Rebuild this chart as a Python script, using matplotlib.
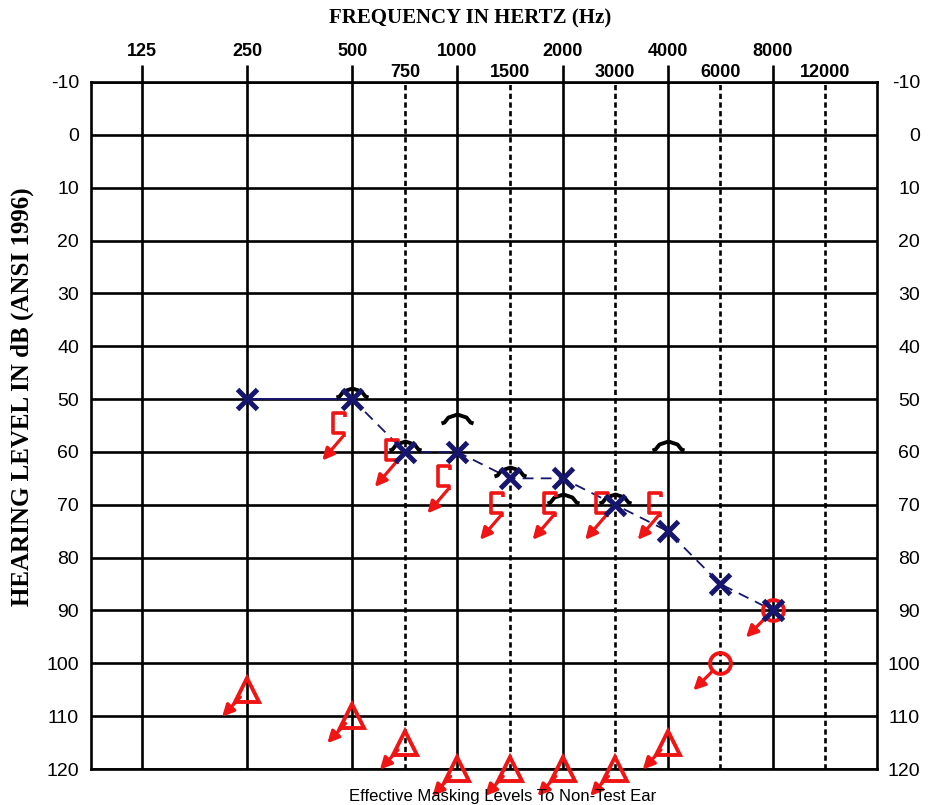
import numpy as np
import matplotlib.pyplot as plt
from matplotlib.path import Path

# audiogram grid
octave_freqs = [125, 250, 500, 1000, 2000, 4000, 8000]
mid_freqs = [750, 1500, 3000, 6000, 12000]
levels = list(range(-10, 121, 10))

# left air conduction (X)
ac_freqs = [250, 500, 750, 1000, 1500, 2000, 3000, 4000, 6000, 8000]
ac_left = [50, 50, 60, 60, 65, 65, 70, 75, 85, 90]

# bone conduction: unmasked (^) and masked right, no response ([)
bc_freqs = [500, 750, 1000, 1500, 2000, 3000, 4000]
bc_unmasked = [50, 60, 55, 65, 70, 70, 60]
bc_masked_nr = [55, 60, 65, 70, 70, 70, 70]

# masked right air conduction, no response (triangle)
acm_freqs = [250, 500, 750, 1000, 1500, 2000, 3000, 4000]
acm_right_nr = [105, 110, 115, 120, 120, 120, 120, 115]

# unmasked right air conduction, no response (O)
acr_freqs = [6000, 8000]
acr_right_nr = [100, 90]

NAVY = '#16166e'
RED = '#f01414'
DPI = 100
LW = 1.9


def freq_to_pos(f):
    # one unit per octave from 125 Hz, linear in Hz inside each octave,
    # so 750/1500/3000... sit half way between the octave lines
    f = np.maximum(np.asarray(f, float), 1e-6)
    octv = np.floor(np.log2(f / 125) + 1e-9)
    return octv + f / (125 * 2 ** octv) - 1


def pos_to_freq(p):
    p = np.asarray(p, float)
    octv = np.floor(p)
    return 125 * 2 ** octv * (1 + p - octv)


def px_marker(pts):
    # custom marker drawn in pixel offsets around the data point
    verts = np.array(pts, float)
    size = 2 * np.abs(verts).max() * 72 / DPI
    return Path(verts), size


def nr_arrows(ax, freqs, vals, tip_px, shrink_px):
    # "no response" arrows pointing down-left
    for f, v in zip(freqs, vals):
        ax.annotate('', xy=(f, v), xytext=(tip_px[0] * 0.72, -tip_px[1] * 0.72),
                    textcoords='offset points', annotation_clip=False,
                    arrowprops=dict(arrowstyle='<|-,head_length=0.7,head_width=0.35',
                                    color=RED, lw=2.3, mutation_scale=10,
                                    shrinkA=0, shrinkB=shrink_px * 0.72))


fig = plt.figure(figsize=(9.38, 8.05), dpi=DPI)
ax = fig.add_axes([91 / 938, 1 - 769 / 805, 786 / 938, 687 / 805])

ax.set_xscale('function', functions=(freq_to_pos, pos_to_freq))
ax.set_xlim(pos_to_freq(-0.485), pos_to_freq(6.99))
ax.set_ylim(120, -10)

ax.xaxis.tick_top()
ax.set_xticks(octave_freqs, labels=[str(f) for f in octave_freqs],
              fontweight='bold', fontsize=13, family='Liberation Sans')
ax.set_xticks(mid_freqs, labels=[str(f) for f in mid_freqs], minor=True,
              fontweight='bold', fontsize=13, family='Liberation Sans')
ax.tick_params(axis='x', which='major', length=12.2, width=LW, pad=3.5, top=True, bottom=False)
ax.tick_params(axis='x', which='minor', length=0, pad=0.8, top=True, bottom=False)

ax.set_yticks(levels, labels=[str(v) for v in levels], fontsize=14, family='Liberation Sans')
ax.tick_params(axis='y', length=0, pad=8.6)

sec = ax.secondary_yaxis('right')
sec.set_yticks(levels, labels=[str(v) for v in levels], fontsize=14, family='Liberation Sans',
               ha='right')
sec.tick_params(length=0, pad=31)
sec.spines['right'].set_visible(False)

ax.grid(which='major', axis='both', color='black', lw=LW)
ax.grid(which='minor', axis='x', color='black', lw=LW, ls=(0, (2.0, 1.3)))
ax.set_axisbelow(True)
for sp in ax.spines.values():
    sp.set_linewidth(LW)

# left air conduction line: solid first segment, dashed after
ax.plot(ac_freqs[:2], ac_left[:2], color=NAVY, lw=1.3, zorder=3)
ax.plot(ac_freqs[1:], ac_left[1:], color=NAVY, lw=1.3, ls=(0, (6, 4)), zorder=3)

hat, hat_ms = px_marker([(-16, 2), (-13, 3), (-9, 8), (0, 11), (9, 8), (13, 3), (16, 2)])
ax.plot(bc_freqs, bc_unmasked, ls='none', marker=hat, ms=hat_ms, mfc='none',
        mec='black', mew=2.8, zorder=4, clip_on=False)

bracket, br_ms = px_marker([(-7, 8), (-7, 12), (-19, 12), (-19, -8), (-8, -8), (-8, -12)])
ax.plot(bc_freqs, bc_masked_nr, ls='none', marker=bracket, ms=br_ms, mfc='none',
        mec=RED, mew=2.6, zorder=4, clip_on=False)
nr_arrows(ax, bc_freqs, bc_masked_nr, (-30, 35), 15)

ax.plot(acm_freqs, acm_right_nr, ls='none', marker='^', ms=17, mfc='none',
        mec=RED, mew=2.8, zorder=4, clip_on=False)
nr_arrows(ax, acm_freqs, acm_right_nr, (-25, 27), 10)

ax.plot(acr_freqs, acr_right_nr, ls='none', marker='o', ms=15, mfc='none',
        mec=RED, mew=2.8, zorder=4, clip_on=False)
nr_arrows(ax, acr_freqs, acr_right_nr, (-27, 27), 10)

ax.plot(ac_freqs, ac_left, ls='none', marker='x', ms=14, mec=NAVY, mew=3.6,
        zorder=5, clip_on=False)

fig.text(470 / 938, 1 - 18 / 805, 'FREQUENCY IN HERTZ (Hz)', ha='center', va='center',
         family='Liberation Serif', fontweight='bold', fontsize=15)
fig.text(22 / 938, 1 - 397 / 805, 'HEARING LEVEL IN dB (ANSI 1996)', ha='center',
         va='center', rotation=90, family='Liberation Serif', fontweight='bold', fontsize=18)
fig.text(503 / 938, 1 - 804 / 805, 'Effective Masking Levels To Non-Test Ear', ha='center',
         va='bottom', family='Liberation Sans', fontsize=12)

fig.savefig('out.png', dpi=DPI)
